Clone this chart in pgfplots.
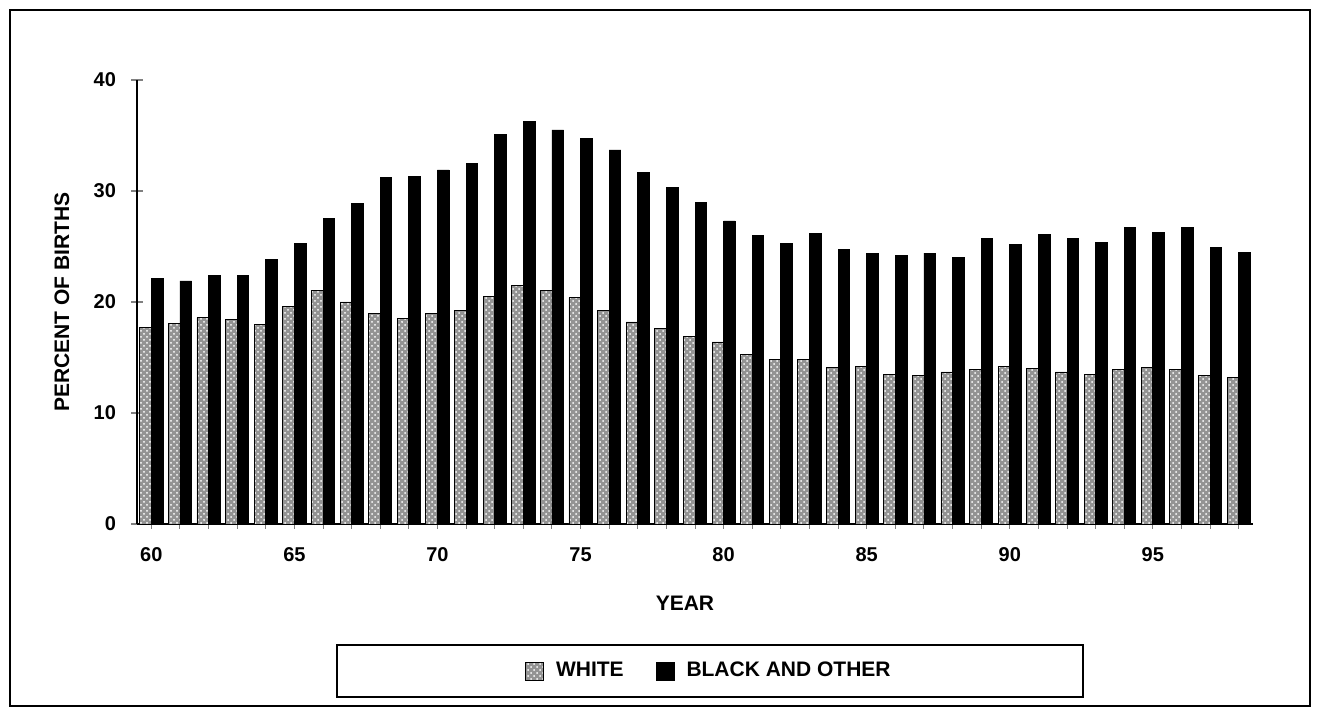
\documentclass[border=0pt]{standalone}
\usepackage{fontspec}
\setmainfont{Liberation Sans}
\usepackage{pgfplots}
\usepackage{pgfplotstable}
\pgfplotsset{compat=1.18}
\usetikzlibrary{patterns}

\pgfplotsset{
  sqlegend/.style={legend image code/.code={%
    \draw[##1] (0pt,-4.5pt) rectangle (9pt,4.5pt);
    \path[draw=none, fill=none, pattern=none, postaction={}] (13pt,0pt);}},
}

% percent of births, by year
\pgfplotstableread{
year white black
60 17.7 22.1
61 18.1 21.9
62 18.6 22.4
63 18.4 22.4
64 18.0 23.8
65 19.6 25.3
66 21.0 27.5
67 20.0 28.9
68 19.0 31.2
69 18.5 31.3
70 19.0 31.9
71 19.2 32.5
72 20.5 35.1
73 21.5 36.3
74 21.0 35.5
75 20.4 34.7
76 19.2 33.7
77 18.2 31.7
78 17.6 30.3
79 16.9 29.0
80 16.4 27.3
81 15.3 26.0
82 14.8 25.3
83 14.8 26.2
84 14.1 24.7
85 14.2 24.4
86 13.5 24.2
87 13.4 24.4
88 13.7 24.0
89 13.9 25.7
90 14.2 25.2
91 14.0 26.1
92 13.7 25.7
93 13.5 25.4
94 13.9 26.7
95 14.1 26.3
96 13.9 26.7
97 13.4 24.9
98 13.2 24.5
}\births

\begin{document}
\begin{tikzpicture}[font=\bfseries]
\path (0,0) rectangle (658.5pt,356pt);
\draw[line width=1pt] (5pt,3pt) rectangle (655pt,351pt);
\draw[line width=0.9pt] (168.5pt,7.5pt) rectangle (541.5pt,33.5pt);
\begin{axis}[
  at={(68.5pt,94pt)}, anchor=south west,
  scale only axis, width=558pt, height=222pt,
  xmin=59.5, xmax=98.5, ymin=0, ymax=40,
  axis x line*=bottom, axis y line*=left,
  axis line style={line width=1pt},
  ybar=0pt, bar width=5.8pt,
  xtick={60,65,...,95},
  minor xtick={60,61,...,98},
  major x tick style={draw=none},
  minor x tick style={line width=0.5pt},
  minor tick length=2.5pt,
  xtick align=outside,
  ytick={0,10,...,40},
  ytick align=center,
  major tick length=6pt,
  major y tick style={line width=0.8pt},
  /pgf/number format/assume math mode=true,
  tick label style={font=\bfseries\fontsize{10}{12}\selectfont},
  xticklabel style={anchor=center, yshift=-9.5pt},
  yticklabel style={anchor=east, xshift=-4pt},
  ylabel={PERCENT OF BIRTHS},
  ylabel style={at={(axis description cs:-0.0672,0.5)}, anchor=center, font=\bfseries\fontsize{10.5}{12}\selectfont},
  xlabel={YEAR},
  xlabel style={at={(axis description cs:0.491,0)}, anchor=center, yshift=-39.5pt, font=\bfseries\fontsize{10.5}{12}\selectfont},
  legend style={at={(0.5134,-0.3311)}, anchor=center, draw=none, fill=none,
    legend columns=2, font=\bfseries\fontsize{10.5}{12}\selectfont,
    /tikz/every even column/.append style={column sep=14pt}},
]
\addplot[draw=black, line width=0.4pt, fill=gray!85,
  postaction={pattern=crosshatch dots, pattern color=white}, sqlegend]
  table[x=year, y=white] {\births};
\addplot[draw=black, line width=0.4pt, fill=black, sqlegend]
  table[x=year, y=black] {\births};
\legend{WHITE, BLACK AND OTHER}
\end{axis}
\end{tikzpicture}
\end{document}
